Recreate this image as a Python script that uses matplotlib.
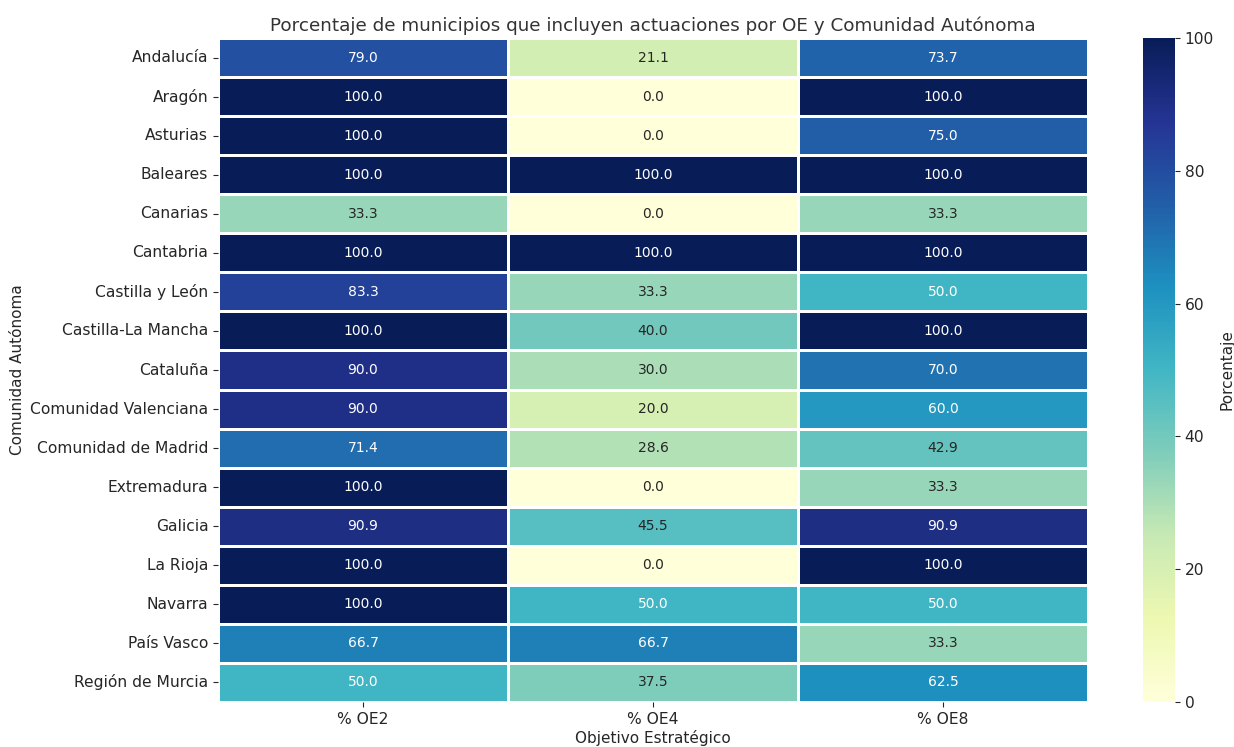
import numpy as np
import pandas as pd
import matplotlib
matplotlib.use("Agg")
import matplotlib.pyplot as plt
import seaborn as sns

comunidades = ["Andalucía", "Aragón", "Asturias", "Baleares", "Canarias", "Cantabria",
               "Castilla y León", "Castilla-La Mancha", "Cataluña", "Comunidad Valenciana",
               "Comunidad de Madrid", "Extremadura", "Galicia", "La Rioja", "Navarra",
               "País Vasco", "Región de Murcia"]
oe2 = [79.0, 100.0, 100.0, 100.0, 33.3, 100.0, 83.3, 100.0, 90.0, 90.0, 71.4, 100.0, 90.9, 100.0, 100.0, 66.7, 50.0]
oe4 = [21.1, 0.0, 0.0, 100.0, 0.0, 100.0, 33.3, 40.0, 30.0, 20.0, 28.6, 0.0, 45.5, 0.0, 50.0, 66.7, 37.5]
oe8 = [73.7, 100.0, 75.0, 100.0, 33.3, 100.0, 50.0, 100.0, 70.0, 60.0, 42.9, 33.3, 90.9, 100.0, 50.0, 33.3, 62.5]

df = pd.DataFrame({"% OE2": oe2, "% OE4": oe4, "% OE8": oe8}, index=comunidades)

plt.rcParams["text.color"] = "#262626"
plt.rcParams["axes.labelcolor"] = "#262626"
plt.rcParams["xtick.color"] = "#262626"
plt.rcParams["ytick.color"] = "#262626"

fig = plt.figure(figsize=(12.34, 7.47), dpi=100)
ax = fig.add_axes([218/1234, 45/747, 870/1234, 664/747])
cax = fig.add_axes([1143/1234, 45/747, 32/1234, 664/747])

sns.heatmap(df, annot=True, fmt=".1f", cmap="YlGnBu", vmin=0, vmax=100,
            linewidths=1, linecolor="white", ax=ax, cbar_ax=cax,
            cbar_kws={"label": "Porcentaje"}, annot_kws={"fontsize": 10})

ax.set_title("Porcentaje de municipios que incluyen actuaciones por OE y Comunidad Autónoma",
             fontsize=13.2, color="#333333", pad=5)
ax.set_xlabel("Objetivo Estratégico", fontsize=11, labelpad=2)
ax.set_ylabel("Comunidad Autónoma", fontsize=11)
ax.tick_params(axis="both", labelsize=11.2)
plt.setp(ax.get_yticklabels(), rotation=0)
cax.tick_params(labelsize=11.2)
cax.yaxis.label.set_size(11)
for s in cax.spines.values():
    s.set_visible(False)

fig.savefig("out.png", dpi=100)
